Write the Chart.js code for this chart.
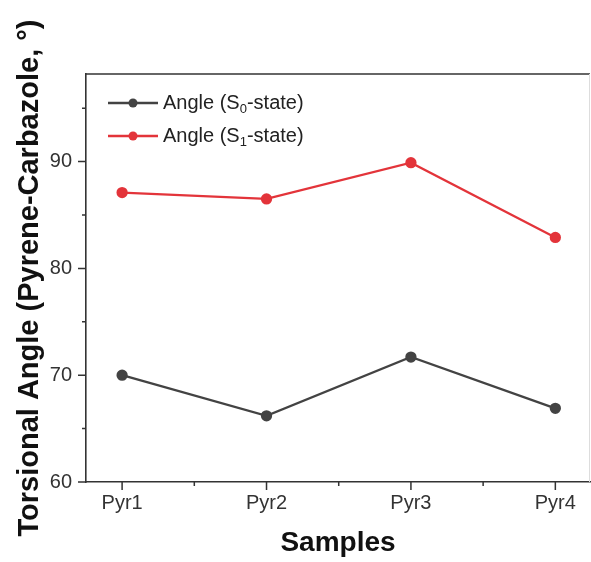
<!DOCTYPE html>
<html>
<head>
<meta charset="utf-8">
<script src="https://cdn.jsdelivr.net/npm/chart.js@4"></script>
<style>
  body { margin: 0; background: #fff; }
  #wrap { width: 591px; height: 562px; }
</style>
</head>
<body>
<div id="wrap"><canvas id="myChart" width="591" height="562"></canvas></div>
<script>
const samples = ['Pyr1', 'Pyr2', 'Pyr3', 'Pyr4'];
const angleS0 = [70.0, 66.2, 71.7, 66.9];
const angleS1 = [87.1, 86.5, 89.9, 82.9];
const yMajor = [60, 70, 80, 90];
const yMinor = [65, 75, 85, 95];
const xMinor = [1.5, 2.5, 3.5];

const FONT = '"Liberation Sans", Arial, sans-serif';
const GRAY = '#434343';
const RED = '#e3343a';

// frame, ticks (major/minor) and legend with subscripts
const decor = {
    id: 'decor',
    afterDraw(chart) {
        const ctx = chart.ctx;
        const a = chart.chartArea;
        const x = chart.scales.x, y = chart.scales.y;
        ctx.save();
        ctx.strokeStyle = '#333';
        ctx.lineWidth = 1.6;
        ctx.beginPath();
        ctx.moveTo(a.left, a.top); ctx.lineTo(a.right, a.top);
        ctx.stroke();
        ctx.strokeStyle = '#ddd';
        ctx.lineWidth = 1;
        ctx.beginPath();
        ctx.moveTo(a.right - 0.5, a.top); ctx.lineTo(a.right - 0.5, a.bottom);
        ctx.stroke();

        ctx.strokeStyle = '#333';
        ctx.lineWidth = 1.5;
        ctx.beginPath();
        samples.forEach((s, i) => {
            const px = x.getPixelForValue(i + 1);
            ctx.moveTo(px, a.bottom); ctx.lineTo(px, a.bottom + 8);
        });
        xMinor.forEach(v => {
            const px = x.getPixelForValue(v);
            ctx.moveTo(px, a.bottom); ctx.lineTo(px, a.bottom + 4);
        });
        yMajor.forEach(v => {
            const py = y.getPixelForValue(v);
            ctx.moveTo(a.left, py); ctx.lineTo(a.left - 8, py);
        });
        yMinor.forEach(v => {
            const py = y.getPixelForValue(v);
            ctx.moveTo(a.left, py); ctx.lineTo(a.left - 4, py);
        });
        ctx.stroke();

        // legend
        chart.data.datasets.forEach((ds, i) => {
            const ly = a.top + 29 + i * 33;
            const lx = a.left + 22;
            ctx.strokeStyle = ds.borderColor;
            ctx.lineWidth = 2.5;
            ctx.beginPath();
            ctx.moveTo(lx, ly); ctx.lineTo(lx + 50, ly);
            ctx.stroke();
            ctx.fillStyle = ds.borderColor;
            ctx.beginPath();
            ctx.arc(lx + 25, ly, 4.5, 0, Math.PI * 2);
            ctx.fill();
            ctx.fillStyle = '#222';
            ctx.textBaseline = 'middle';
            ctx.textAlign = 'left';
            ctx.font = '20px ' + FONT;
            let tx = lx + 55;
            const p1 = 'Angle (S';
            ctx.fillText(p1, tx, ly);
            tx += ctx.measureText(p1).width;
            ctx.font = '13px ' + FONT;
            const sub = ds.sub;
            ctx.fillText(sub, tx, ly + 6);
            tx += ctx.measureText(sub).width;
            ctx.font = '20px ' + FONT;
            ctx.fillText('-state)', tx, ly);
        });
        ctx.restore();
    }
};

const makePoints = vals => vals.map((v, i) => ({ x: i + 1, y: v }));

new Chart(document.getElementById('myChart'), {
    type: 'line',
    data: {
        datasets: [
            {
                label: 'Angle (S0-state)', sub: '0',
                data: makePoints(angleS0),
                borderColor: GRAY, backgroundColor: GRAY,
                borderWidth: 2.3, pointRadius: 4.5, pointHoverRadius: 4.5, tension: 0
            },
            {
                label: 'Angle (S1-state)', sub: '1',
                data: makePoints(angleS1),
                borderColor: RED, backgroundColor: RED,
                borderWidth: 2.3, pointRadius: 4.5, pointHoverRadius: 4.5, tension: 0
            }
        ]
    },
    options: {
        responsive: false,
        animation: false,
        events: [],
        layout: { autoPadding: false, padding: { top: 74, right: 1, left: 0, bottom: 0 } },
        plugins: { legend: { display: false }, tooltip: { enabled: false } },
        scales: {
            x: {
                type: 'linear',
                min: 0.75, max: 4.24,
                afterFit: s => { s.height = 80; s.paddingLeft = 0; s.paddingRight = 0; },
                afterBuildTicks: s => { s.ticks = samples.map((n, i) => ({ value: i + 1 })); },
                grid: { display: false, drawTicks: false },
                border: { display: true, color: '#333', width: 1.6 },
                ticks: {
                    padding: 9, color: '#333', maxRotation: 0,
                    font: { family: FONT, size: 20 },
                    callback: v => samples[v - 1] || ''
                },
                title: {
                    display: true, text: 'Samples', color: '#111',
                    font: { family: FONT, size: 28, weight: 'bold' },
                    padding: { top: 2, bottom: 2 }
                }
            },
            y: {
                min: 60, max: 98.2,
                afterFit: s => { s.width = 86; s.paddingTop = 0; s.paddingBottom = 0; },
                afterBuildTicks: s => { s.ticks = yMajor.map(v => ({ value: v })); },
                grid: { display: false, drawTicks: false },
                border: { display: true, color: '#333', width: 1.6 },
                ticks: {
                    padding: 14, color: '#333',
                    font: { family: FONT, size: 20 }
                },
                title: {
                    display: true, text: 'Torsional Angle (Pyrene-Carbazole, °)', color: '#111',
                    font: { family: FONT, size: 29, weight: 'bold' },
                    padding: { top: 13, bottom: 0 }
                }
            }
        }
    },
    plugins: [decor]
});
</script>
</body>
</html>
